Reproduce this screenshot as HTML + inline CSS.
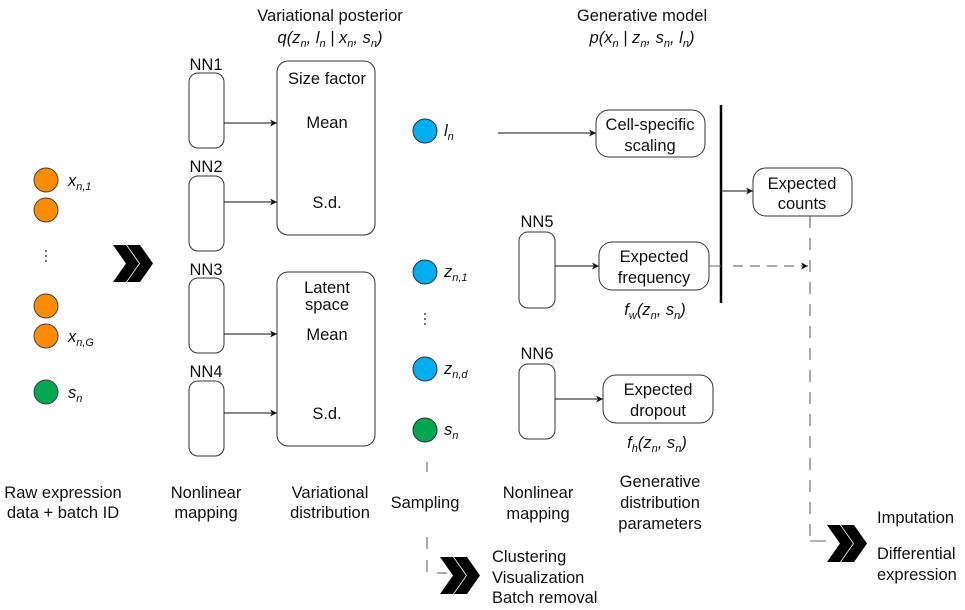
<!DOCTYPE html>
<html><head><meta charset="utf-8"><style>
html,body{margin:0;padding:0;background:#fff;}
svg{display:block;}
text{font-family:"Liberation Sans",Arial,sans-serif;font-size:16.5px;fill:#111;}
.i{font-style:italic;}
.s{font-size:11px;font-style:italic;}
</style></head><body>
<svg width="965" height="610" viewBox="0 0 965 610" xmlns="http://www.w3.org/2000/svg">
<defs>
<marker id="a" markerWidth="8" markerHeight="8" refX="7" refY="4" orient="auto" markerUnits="userSpaceOnUse"><path d="M0,0.5 L7,4 L0,7.5 L2,4 Z" fill="#111"/></marker>
<g id="chev"><polygon points="0,0 13,0 26,18.5 13,37 0,37 13,18.5" fill="#000"/><polygon points="14,0 27,0 40,18.5 27,37 14,37 27,18.5" fill="#000"/></g>
</defs>

<g stroke="#444" stroke-width="1">
<circle cx="46" cy="180" r="12" fill="#FF8C00"/>
<circle cx="46" cy="210" r="12" fill="#FF8C00"/>
<circle cx="46" cy="306" r="12" fill="#FF8C00"/>
<circle cx="46" cy="336" r="12" fill="#FF8C00"/>
<circle cx="46" cy="392" r="12" fill="#00A651"/>
</g>
<text x="68" y="186" class="i">x<tspan class="s" dy="4">n,1</tspan></text>
<text x="68" y="342" class="i">x<tspan class="s" dy="4">n,G</tspan></text>
<text x="68" y="398" class="i">s<tspan class="s" dy="4">n</tspan></text>
<g fill="#111"><circle cx="46" cy="251" r="0.9"/><circle cx="46" cy="256" r="0.9"/><circle cx="46" cy="261" r="0.9"/></g>
<use href="#chev" x="113" y="245"/>

<text x="330" y="21" text-anchor="middle">Variational posterior</text>
<text x="330" y="43" text-anchor="middle" class="i">q(z<tspan class="s" dy="4">n</tspan><tspan dy="-4">, l</tspan><tspan class="s" dy="4">n</tspan><tspan dy="-4"> | x</tspan><tspan class="s" dy="4">n</tspan><tspan dy="-4">, s</tspan><tspan class="s" dy="4">n</tspan><tspan dy="-4">)</tspan></text>
<text x="642" y="21" text-anchor="middle">Generative model</text>
<text x="642" y="43" text-anchor="middle" class="i">p(x<tspan class="s" dy="4">n</tspan><tspan dy="-4"> | z</tspan><tspan class="s" dy="4">n</tspan><tspan dy="-4">, s</tspan><tspan class="s" dy="4">n</tspan><tspan dy="-4">, l</tspan><tspan class="s" dy="4">n</tspan><tspan dy="-4">)</tspan></text>

<g fill="#fff" stroke="#333" stroke-width="1">
<rect x="189" y="73" width="35" height="75" rx="9"/>
<rect x="189" y="176" width="35" height="75" rx="9"/>
<rect x="189" y="278" width="35" height="75" rx="9"/>
<rect x="189" y="381" width="35" height="75" rx="9"/>
<rect x="277" y="61" width="98" height="174" rx="11"/>
<rect x="277" y="272" width="98" height="174" rx="11"/>
</g>
<text x="206" y="70" text-anchor="middle">NN1</text>
<text x="206" y="172" text-anchor="middle">NN2</text>
<text x="206" y="275" text-anchor="middle">NN3</text>
<text x="206" y="377" text-anchor="middle">NN4</text>
<g stroke="#111" stroke-width="1" marker-end="url(#a)">
<line x1="224" y1="123" x2="277" y2="123"/>
<line x1="224" y1="202" x2="277" y2="202"/>
<line x1="224" y1="334" x2="277" y2="334"/>
<line x1="224" y1="413" x2="277" y2="413"/>
</g>
<text x="327" y="84" text-anchor="middle">Size factor</text>
<text x="327" y="128" text-anchor="middle">Mean</text>
<text x="327" y="208" text-anchor="middle">S.d.</text>
<text x="327" y="293" text-anchor="middle">Latent</text>
<text x="327" y="310" text-anchor="middle">space</text>
<text x="327" y="340" text-anchor="middle">Mean</text>
<text x="327" y="419" text-anchor="middle">S.d.</text>

<g stroke="#333" stroke-width="1">
<circle cx="425" cy="131" r="12" fill="#00AEEF"/>
<circle cx="425" cy="272" r="12" fill="#00AEEF"/>
<circle cx="425" cy="369" r="12" fill="#00AEEF"/>
<circle cx="425" cy="430" r="12" fill="#00A651"/>
</g>
<text x="444" y="136" class="i">l<tspan class="s" dy="4">n</tspan></text>
<text x="444" y="277" class="i">z<tspan class="s" dy="4">n,1</tspan></text>
<text x="444" y="374" class="i">z<tspan class="s" dy="4">n,d</tspan></text>
<text x="444" y="435" class="i">s<tspan class="s" dy="4">n</tspan></text>
<g fill="#111"><circle cx="425" cy="314" r="0.9"/><circle cx="425" cy="319" r="0.9"/><circle cx="425" cy="324" r="0.9"/></g>

<line x1="498" y1="133" x2="596" y2="133" stroke="#111" marker-end="url(#a)"/>
<g fill="#fff" stroke="#333" stroke-width="1">
<rect x="596" y="110" width="109" height="47" rx="13"/>
<rect x="519" y="232" width="36" height="76" rx="9"/>
<rect x="599" y="242" width="110" height="48" rx="13"/>
<rect x="519" y="364" width="36" height="75" rx="9"/>
<rect x="603" y="375" width="110" height="48" rx="13"/>
<rect x="753" y="168" width="99" height="48" rx="13"/>
</g>
<text x="650" y="130" text-anchor="middle">Cell-specific</text>
<text x="650" y="151" text-anchor="middle">scaling</text>
<text x="537" y="227" text-anchor="middle">NN5</text>
<text x="654" y="262" text-anchor="middle">Expected</text>
<text x="654" y="283" text-anchor="middle">frequency</text>
<text x="537" y="359" text-anchor="middle">NN6</text>
<text x="658" y="395" text-anchor="middle">Expected</text>
<text x="658" y="416" text-anchor="middle">dropout</text>
<text x="802" y="189" text-anchor="middle">Expected</text>
<text x="802" y="209" text-anchor="middle">counts</text>
<line x1="555" y1="266" x2="599" y2="266" stroke="#111" marker-end="url(#a)"/>
<line x1="555" y1="399" x2="603" y2="399" stroke="#111" marker-end="url(#a)"/>
<line x1="721" y1="105" x2="721" y2="303" stroke="#000" stroke-width="2.5"/>
<line x1="721" y1="191" x2="753" y2="191" stroke="#111" marker-end="url(#a)"/>
<line x1="709" y1="266" x2="721" y2="266" stroke="#666"/>
<line x1="733" y1="266" x2="808" y2="266" stroke="#555" stroke-dasharray="10,7" marker-end="url(#a)"/>
<line x1="810" y1="216" x2="810" y2="541" stroke="#555" stroke-dasharray="12,10"/>
<line x1="810" y1="541" x2="826" y2="541" stroke="#666"/>
<use href="#chev" x="827" y="525"/>

<text x="655" y="315" text-anchor="middle" class="i">f<tspan class="s" dy="4">w</tspan><tspan dy="-4">(z</tspan><tspan class="s" dy="4">n</tspan><tspan dy="-4">, s</tspan><tspan class="s" dy="4">n</tspan><tspan dy="-4">)</tspan></text>
<text x="657" y="448" text-anchor="middle" class="i">f<tspan class="s" dy="4">h</tspan><tspan dy="-4">(z</tspan><tspan class="s" dy="4">n</tspan><tspan dy="-4">, s</tspan><tspan class="s" dy="4">n</tspan><tspan dy="-4">)</tspan></text>

<g stroke="#555" stroke-width="1">
<line x1="427" y1="462" x2="427" y2="472"/>
<line x1="427" y1="537" x2="427" y2="549"/>
<line x1="427" y1="560" x2="427" y2="572"/>
<line x1="437" y1="573" x2="447" y2="573"/>
</g>
<use href="#chev" x="440" y="557"/>

<text x="63" y="498" text-anchor="middle">Raw expression</text>
<text x="63" y="518" text-anchor="middle">data + batch ID</text>
<text x="206" y="498" text-anchor="middle">Nonlinear</text>
<text x="206" y="518" text-anchor="middle">mapping</text>
<text x="330" y="498" text-anchor="middle">Variational</text>
<text x="330" y="518" text-anchor="middle">distribution</text>
<text x="425" y="508" text-anchor="middle">Sampling</text>
<text x="538" y="498" text-anchor="middle">Nonlinear</text>
<text x="538" y="519" text-anchor="middle">mapping</text>
<text x="660" y="487" text-anchor="middle">Generative</text>
<text x="660" y="508" text-anchor="middle">distribution</text>
<text x="660" y="529" text-anchor="middle">parameters</text>
<text x="492" y="562">Clustering</text>
<text x="492" y="583">Visualization</text>
<text x="492" y="603">Batch removal</text>
<text x="877" y="523">Imputation</text>
<text x="877" y="559">Differential</text>
<text x="877" y="580">expression</text>
</svg>
</body></html>
